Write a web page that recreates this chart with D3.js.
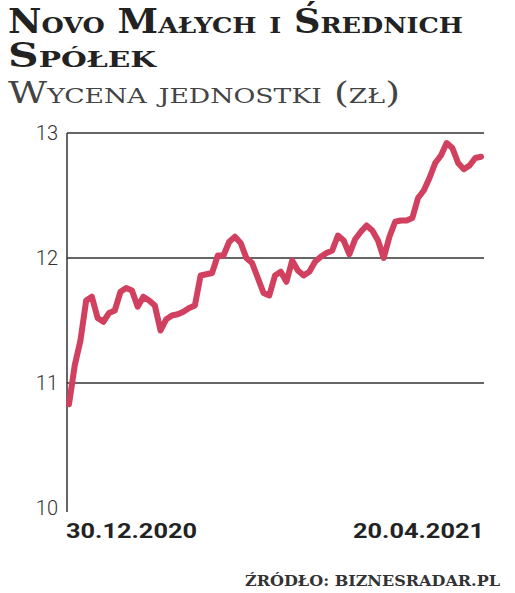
<!DOCTYPE html><html><head><meta charset="utf-8"><script src="https://cdn.jsdelivr.net/npm/d3@7"></script>
<style>body{margin:0;background:#fff}</style></head><body><svg id="c" width="515" height="593"></svg>
<script>
const values=[10.83,11.14,11.34,11.66,11.69,11.52,11.49,11.56,11.58,11.73,11.76,11.74,11.61,11.69,11.66,11.62,11.42,11.51,11.54,11.55,11.57,11.60,11.62,11.86,11.87,11.88,12.02,12.02,12.13,12.17,12.12,12.00,11.96,11.84,11.72,11.70,11.86,11.89,11.81,11.98,11.90,11.86,11.89,11.97,12.01,12.04,12.06,12.18,12.14,12.03,12.15,12.21,12.26,12.22,12.14,12.00,12.17,12.29,12.30,12.30,12.32,12.48,12.54,12.64,12.76,12.82,12.92,12.88,12.76,12.71,12.74,12.80,12.81];
const yTicks=[10,11,12,13];
const dateLabels=["30.12.2020","20.04.2021"];
const svg=d3.select("#c");
const x=d3.scaleLinear().domain([0,values.length-1]).range([69,481]);
const y=d3.scaleLinear().domain([10,13]).range([508,133]);
function t(xx,yy,s,opt){const e=svg.append("text").attr("x",xx).attr("y",yy).attr("font-family",opt.f).attr("font-weight",opt.w||"normal").attr("font-size",opt.s).attr("fill",opt.c).text(s);
 if(opt.sc) e.style("font-variant","small-caps"); if(opt.L) e.attr("textLength",opt.L).attr("lengthAdjust","spacingAndGlyphs"); if(opt.a) e.attr("text-anchor",opt.a); return e;}
t(8,33,"Novo Małych i Średnich",{f:"DejaVu Serif Condensed",w:"bold",s:33,c:"#222",sc:1,L:455});
t(8,67,"Spółek",{f:"DejaVu Serif Condensed",w:"bold",s:33,c:"#222",sc:1,L:148});
t(8,103,"Wycena jednostki (zł)",{f:"DejaVu Serif Condensed",s:30,c:"#444",sc:1,L:392});
const g=svg.append("g");
yTicks.forEach(v=>{
 if(v>10) g.append("line").attr("x1",67).attr("x2",484).attr("y1",y(v)).attr("y2",y(v)).attr("stroke","#333").attr("stroke-width",1.5);
 g.append("text").attr("x",58).attr("y",y(v)+7).attr("text-anchor","end").attr("font-family","Roboto").attr("font-weight",300).attr("font-size",20).attr("fill","#333").text(v);
});
g.append("line").attr("x1",67).attr("x2",67).attr("y1",y(13)).attr("y2",512).attr("stroke","#333").attr("stroke-width",1.5);
svg.append("path").datum(values).attr("fill","none").attr("stroke","#d1405f").attr("stroke-width",6).attr("stroke-linejoin","round").attr("stroke-linecap","round")
 .attr("d",d3.line().x((d,i)=>x(i)).y(d=>y(d)));
t(66,538,dateLabels[0],{f:"Roboto",w:"bold",s:21,c:"#222",L:131});
t(484,538,dateLabels[1],{f:"Roboto",w:"bold",s:21,c:"#222",L:131,a:"end"});
t(500,586,"ŹRÓDŁO: BIZNESRADAR.PL",{f:"DejaVu Serif Condensed",w:"bold",s:15,c:"#333",L:255,a:"end"});
</script></body></html>
